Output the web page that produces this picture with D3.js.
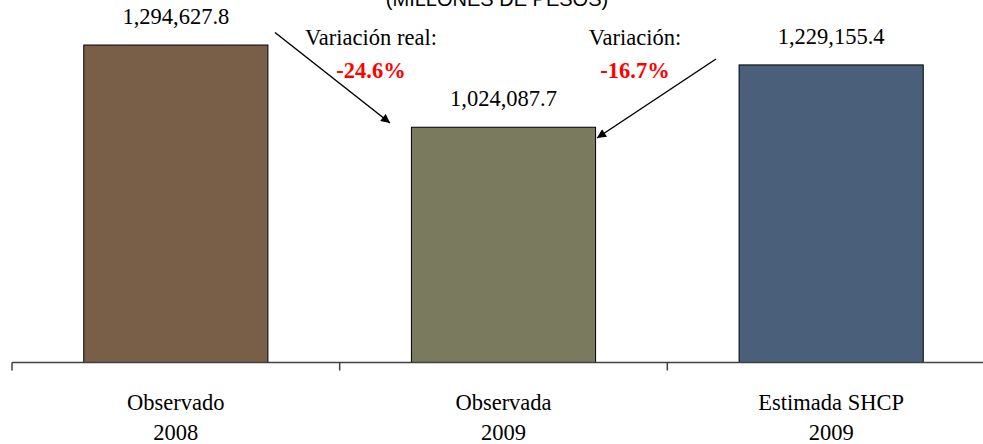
<!DOCTYPE html>
<html>
<head>
<meta charset="utf-8">
<script src="https://cdn.jsdelivr.net/npm/d3@7"></script>
<style>
  body { margin: 0; background: #fff; }
  svg text { font-family: "Palatino Linotype", "Book Antiqua", Palatino, "Liberation Serif", serif; }
</style>
</head>
<body>
<div id="chart"></div>
<script>
// data
var categories = ["Observado", "Observada", "Estimada SHCP"];
var years = ["2008", "2009", "2009"];
var values = [1294627.8, 1024087.7, 1229155.4];
var valueLabels = ["1,294,627.8", "1,024,087.7", "1,229,155.4"];
var colors = ["#7a5f48", "#7a7a5f", "#4a5f7a"];
var title = "(MILLONES DE PESOS)";

// annotations: text + arrow from/to (in category index / value terms)
var annLabels = ["Variación real:", "Variación:"];
var annValues = ["-24.6%", "-16.7%"];

var width = 983;
var height = 444;

var svg = d3.select("#chart")
            .append("svg")
            .attr("width", width)
            .attr("height", height);

// scales
var xScale = d3.scaleBand()
               .domain(categories)
               .range([12, 995])
               .padding(0);
var yScale = d3.scaleLinear()
               .domain([250000, 1400000])
               .range([362.5, 13]);
var barWidth = xScale.bandwidth() * 0.562;
var baseY = yScale(250000);

svg.append("defs").append("marker")
   .attr("id", "arrow")
   .attr("viewBox", "0 0 10 10")
   .attr("refX", 10)
   .attr("refY", 5)
   .attr("markerWidth", 7)
   .attr("markerHeight", 6)
   .attr("markerUnits", "strokeWidth")
   .attr("orient", "auto")
   .append("path")
   .attr("d", "M0,0 L10,5 L0,10 z")
   .attr("fill", "#000");

// title (cut at the top edge)
svg.append("text")
   .attr("x", 497)
   .attr("y", 6)
   .attr("text-anchor", "middle")
   .style("font-family", "'Liberation Sans', Arial, sans-serif")
   .attr("font-size", 20)
   .text(title);

// bars
svg.selectAll(".bar")
   .data(values)
   .enter().append("rect")
   .attr("class", "bar")
   .attr("x", function(d, i) { return xScale(categories[i]) + (xScale.bandwidth() - barWidth) / 2; })
   .attr("width", barWidth)
   .attr("y", function(d) { return yScale(d); })
   .attr("height", function(d) { return baseY - yScale(d); })
   .attr("fill", function(d, i) { return colors[i]; })
   .attr("stroke", "#000")
   .attr("stroke-width", 1);

// value labels
svg.selectAll(".val")
   .data(values)
   .enter().append("text")
   .attr("class", "val")
   .attr("x", function(d, i) { return xScale(categories[i]) + xScale.bandwidth() / 2; })
   .attr("y", function(d) { return yScale(d) - 21; })
   .attr("text-anchor", "middle")
   .attr("font-size", 22.5)
   .attr("fill", "#000")
   .text(function(d, i) { return valueLabels[i]; });

// x axis
var axis = svg.append("g");
axis.append("line")
    .attr("x1", 12).attr("x2", 995)
    .attr("y1", baseY).attr("y2", baseY)
    .attr("stroke", "#404040")
    .attr("stroke-width", 1.5);
axis.selectAll(".tick")
    .data(categories)
    .enter().append("line")
    .attr("x1", function(d) { return xScale(d); })
    .attr("x2", function(d) { return xScale(d); })
    .attr("y1", baseY)
    .attr("y2", baseY + 8)
    .attr("stroke", "#404040")
    .attr("stroke-width", 1.5);
var lbl = axis.selectAll(".lbl")
    .data(categories)
    .enter().append("text")
    .attr("class", "lbl")
    .attr("text-anchor", "middle")
    .attr("font-size", 22.5)
    .attr("fill", "#000");
lbl.append("tspan")
   .attr("x", function(d) { return xScale(d) + xScale.bandwidth() / 2; })
   .attr("y", 410)
   .text(function(d) { return d; });
lbl.append("tspan")
   .attr("x", function(d) { return xScale(d) + xScale.bandwidth() / 2; })
   .attr("y", 440)
   .text(function(d, i) { return years[i]; });

// annotations
var annX = [371, 635];
svg.selectAll(".ann_label")
   .data(annLabels)
   .enter().append("text")
   .attr("class", "ann_label")
   .attr("x", function(d, i) { return annX[i]; })
   .attr("y", 45)
   .attr("text-anchor", "middle")
   .attr("font-size", 22.5)
   .text(function(d) { return d; });
svg.selectAll(".ann_val")
   .data(annValues)
   .enter().append("text")
   .attr("class", "ann_val")
   .attr("x", function(d, i) { return annX[i]; })
   .attr("y", 78)
   .attr("text-anchor", "middle")
   .attr("font-size", 22.5)
   .attr("font-weight", "bold")
   .attr("fill", "#ff0000")
   .text(function(d) { return d; });

// arrows
var arrows = [
  {x1: 275, y1: 32.5, x2: 390, y2: 123},
  {x1: 716, y1: 59, x2: 597, y2: 138}
];
svg.selectAll(".arr")
   .data(arrows)
   .enter().append("line")
   .attr("class", "arr")
   .attr("x1", function(d) { return d.x1; })
   .attr("y1", function(d) { return d.y1; })
   .attr("x2", function(d) { return d.x2; })
   .attr("y2", function(d) { return d.y2; })
   .attr("stroke", "#000")
   .attr("stroke-width", 1.5)
   .attr("marker-end", "url(#arrow)");
</script>
</body>
</html>
